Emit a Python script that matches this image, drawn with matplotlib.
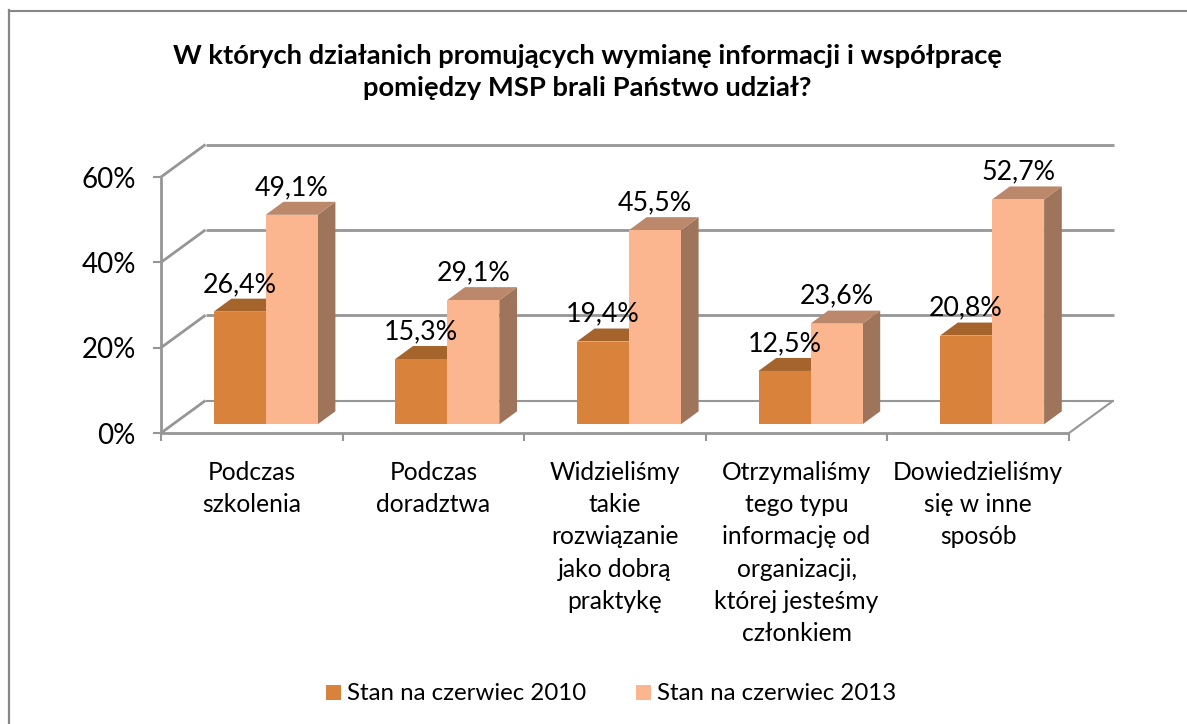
import matplotlib
matplotlib.use('Agg')
import matplotlib.pyplot as plt
from matplotlib.lines import Line2D
from matplotlib.patches import Polygon, Rectangle

plt.rcParams['font.family'] = ['Lato', 'DejaVu Sans']

# ------------Dane-------------------------------------------------

categories = ['Podczas\nszkolenia',
              'Podczas\ndoradztwa',
              'Widzieliśmy\ntakie\nrozwiązanie\njako dobrą\npraktykę',
              'Otrzymaliśmy\ntego typu\ninformację od\norganizacji,\nktórej jesteśmy\nczłonkiem',
              'Dowiedzieliśmy\nsię w inne\nsposób']
values_2010 = [26.4, 15.3, 19.4, 12.5, 20.8]
values_2013 = [49.1, 29.1, 45.5, 23.6, 52.7]
labels_2010 = ['26,4%', '15,3%', '19,4%', '12,5%', '20,8%']
labels_2013 = ['49,1%', '29,1%', '45,5%', '23,6%', '52,7%']
y_ticks = [0, 20, 40, 60]
y_labels = ['0%', '20%', '40%', '60%']
name_2010 = 'Stan na czerwiec 2010'
name_2013 = 'Stan na czerwiec 2013'
title = 'W których działanich promujących wymianę informacji i współpracę\npomiędzy MSP brali Państwo udział?'

# ------------Wygląd-----------------------------------------------

W, H = 1187, 724
GRID = '#969696'
C1, C1_TOP = '#d9823b', '#a5642c'
C2, C2_TOP, C2_SIDE = '#fbb68f', '#bc886b', '#9e745b'

# oś: 161..1069 px w poziomie, 433..177 px w pionie
X0, X1, Y0, Y1 = 161, 1069, 433, 177
PX_X = (X1 - X0) / 5
PX_Y = (Y0 - Y1) / 60

# głębokość pseudo-3D w jednostkach danych
WALL_X, WALL_Y = 44.5 / PX_X, 32.5 / PX_Y
BAR_X, BAR_Y = 17.7 / PX_X, 13 / PX_Y
SHIFT_X, SHIFT_Y = 13.9 / PX_X, 8.7 / PX_Y
BAR_W = 52 / PX_X

fig = plt.figure(figsize=(W / 100, H / 100), dpi=100)
# ramka wykresu: w oryginale widać tylko lewą i górną krawędź
fig.add_artist(Line2D([9 / W, 9 / W], [0, 1 - 10 / H], color='#868686', lw=1.6))
fig.add_artist(Line2D([9 / W, 1], [1 - 10.5 / H, 1 - 10.5 / H], color='#868686', lw=1.5))

ax = fig.add_axes([X0 / W, 1 - Y0 / H, (X1 - X0) / W, (Y0 - Y1) / H])
ax.set_xlim(-0.5, 4.5)
ax.set_ylim(0, 60)
ax.patch.set_visible(False)
for s in ax.spines.values():
    s.set_visible(False)


def line(xs, ys, lw=2.0):
    ax.plot(xs, ys, color=GRID, lw=lw, clip_on=False, solid_capstyle='butt', zorder=1)


# ------------Ściany i siatka--------------------------------------

for t in y_ticks:
    line([-0.5, -0.5 + WALL_X], [t, t + WALL_Y])
    if t > 0:
        line([-0.5 + WALL_X, 4.5 + WALL_X], [t + WALL_Y, t + WALL_Y])
line([-0.5 + WALL_X, 4.5 + WALL_X], [WALL_Y, WALL_Y], lw=1.5)
line([4.5, 4.5 + WALL_X], [0, WALL_Y], lw=1.5)
line([-0.5, -0.5], [0, 60])
line([-0.5, 4.5], [0, 0])

ax.set_xticks([i - 0.5 for i in range(6)])
ax.set_xticklabels([])
ax.set_yticks(y_ticks)
ax.set_yticklabels(y_labels, fontsize=20)
ax.tick_params(axis='x', length=6, width=1.5, color=GRID)
ax.tick_params(axis='y', length=6, width=1.5, color=GRID, pad=12)

for i, c in enumerate(categories):
    ax.text(i, -6.6, c, ha='center', va='top', fontsize=17.7, linespacing=1.48)


# ------------Słupki-----------------------------------------------

def bar3d(left, value, front, top, side, z):
    x = left + SHIFT_X
    b = SHIFT_Y
    ax.add_patch(Polygon([(x + BAR_W, b), (x + BAR_W + BAR_X, b + BAR_Y),
                          (x + BAR_W + BAR_X, value + b + BAR_Y), (x + BAR_W, value + b)],
                         fc=side, ec='none', clip_on=False, zorder=z))
    ax.add_patch(Polygon([(x, value + b), (x + BAR_X, value + b + BAR_Y),
                          (x + BAR_W + BAR_X, value + b + BAR_Y), (x + BAR_W, value + b)],
                         fc=top, ec='none', clip_on=False, zorder=z))
    ax.bar(x, value, BAR_W, bottom=b, align='edge', color=front, clip_on=False, zorder=z + 0.1)


for i in range(5):
    bar3d(i - BAR_W, values_2010[i], C1, C1_TOP, C1_TOP, 2 + i)
    bar3d(i, values_2013[i], C2, C2_TOP, C2_SIDE, 2.5 + i)

for i in range(5):
    ax.text(i - BAR_W / 2 + SHIFT_X, values_2010[i] + SHIFT_Y + BAR_Y + 1.6, labels_2010[i],
            ha='center', va='baseline', fontsize=19.3, zorder=20)
    ax.text(i + BAR_W / 2 + SHIFT_X, values_2013[i] + SHIFT_Y + BAR_Y + 1.6, labels_2013[i],
            ha='center', va='baseline', fontsize=19.3, zorder=20)

# ------------Tytuł i legenda--------------------------------------

fig.text(587.5 / W, 1 - 72 / H, title, ha='center', va='center', fontsize=19.7,
         fontweight='bold', linespacing=1.37)

fig.add_artist(Rectangle((326 / W, 1 - 700 / H), 15 / W, 15 / H, transform=fig.transFigure, fc=C1, ec='none'))
fig.text(347 / W, 1 - 693 / H, name_2010, ha='left', va='center', fontsize=17.3)
fig.add_artist(Rectangle((636 / W, 1 - 700 / H), 15 / W, 15 / H, transform=fig.transFigure, fc=C2, ec='none'))
fig.text(657 / W, 1 - 693 / H, name_2013, ha='left', va='center', fontsize=17.3)

fig.savefig('out.png', dpi=100)
